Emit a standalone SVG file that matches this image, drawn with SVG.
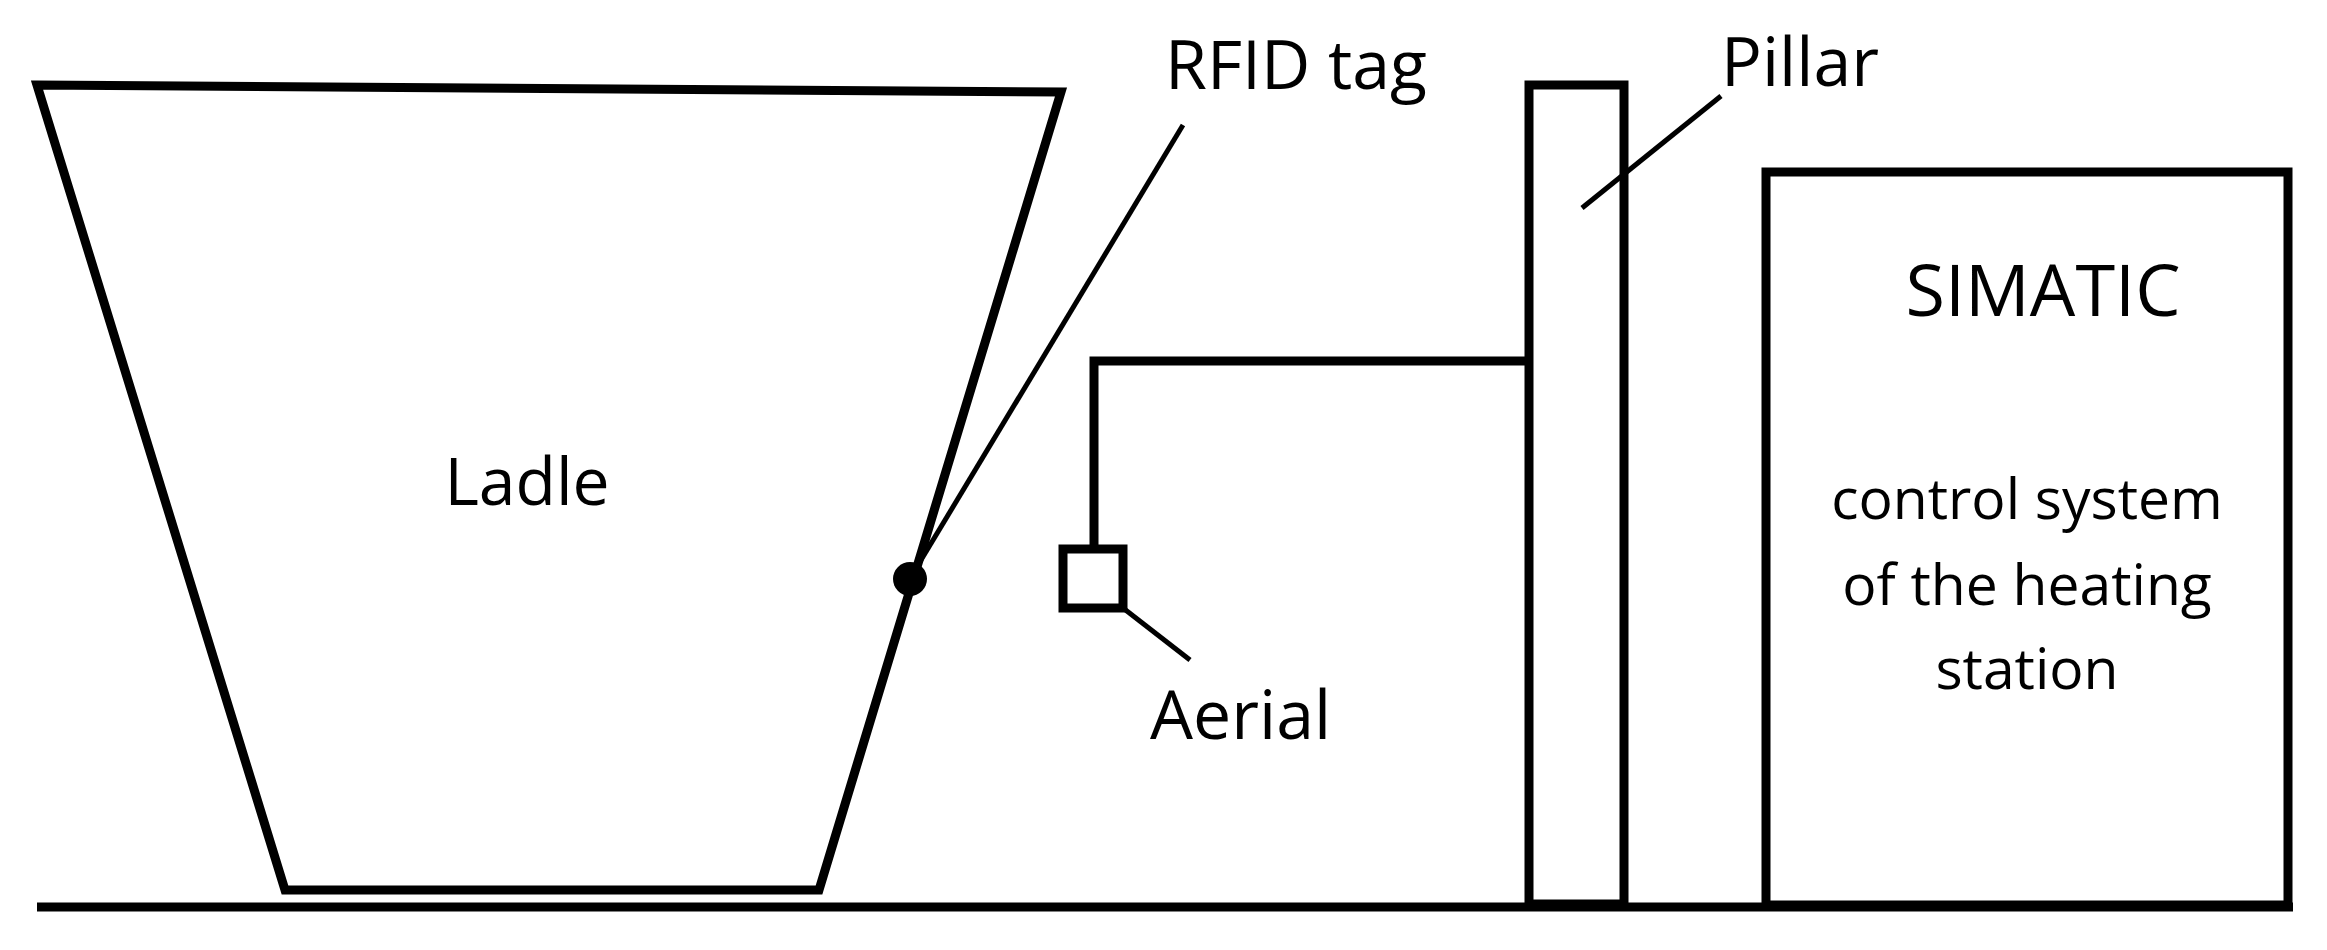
<svg xmlns="http://www.w3.org/2000/svg" width="2327" height="950" viewBox="0 0 2327 950">
<style>
.s{fill:none;stroke:#000;stroke-width:9;stroke-linejoin:miter}
.p{fill:none;stroke:#000;stroke-width:5}
text{font-family:"Open Sans","Liberation Sans",sans-serif;fill:#000}
</style>
<rect width="2327" height="950" fill="#fff"/>
<g id="ground"><line class="s" x1="37" y1="907" x2="2293" y2="907"/></g>
<g id="ladle">
<polygon class="s" points="37,85 1061,92 819,890 285,890"/>
<text x="527" y="505" font-size="66" text-anchor="middle">Ladle</text>
</g>
<g id="rfid">
<circle cx="910" cy="579" r="17" fill="#000"/>
<text x="1165" y="89" font-size="68">RFID tag</text>
</g>
<g id="pillar">
<rect class="s" x="1529" y="85" width="95" height="819"/>
<text x="1721" y="86" font-size="68">Pillar</text>
</g>
<g id="aerial">
<rect class="s" x="1063" y="549" width="60" height="59"/>
<text x="1150" y="739" font-size="68">Aerial</text>
</g>
<g id="simatic">
<rect class="s" x="1766" y="172" width="522" height="733"/>
<text x="2043" y="316" font-size="72" text-anchor="middle">SIMATIC</text>
<text x="2027" y="519" font-size="57" text-anchor="middle">control system</text>
<text x="2027" y="605" font-size="57" text-anchor="middle">of the heating</text>
<text x="2027" y="689" font-size="57" text-anchor="middle">station</text>
</g>
<g id="connectors">
<line class="p" x1="918" y1="565" x2="1183" y2="125"/>
<line class="p" x1="1721" y1="96" x2="1582" y2="208"/>
<polyline class="s" points="1094,549 1094,361 1529,361"/>
<line class="p" x1="1123" y1="608" x2="1190" y2="660"/>
</g>
</svg>
